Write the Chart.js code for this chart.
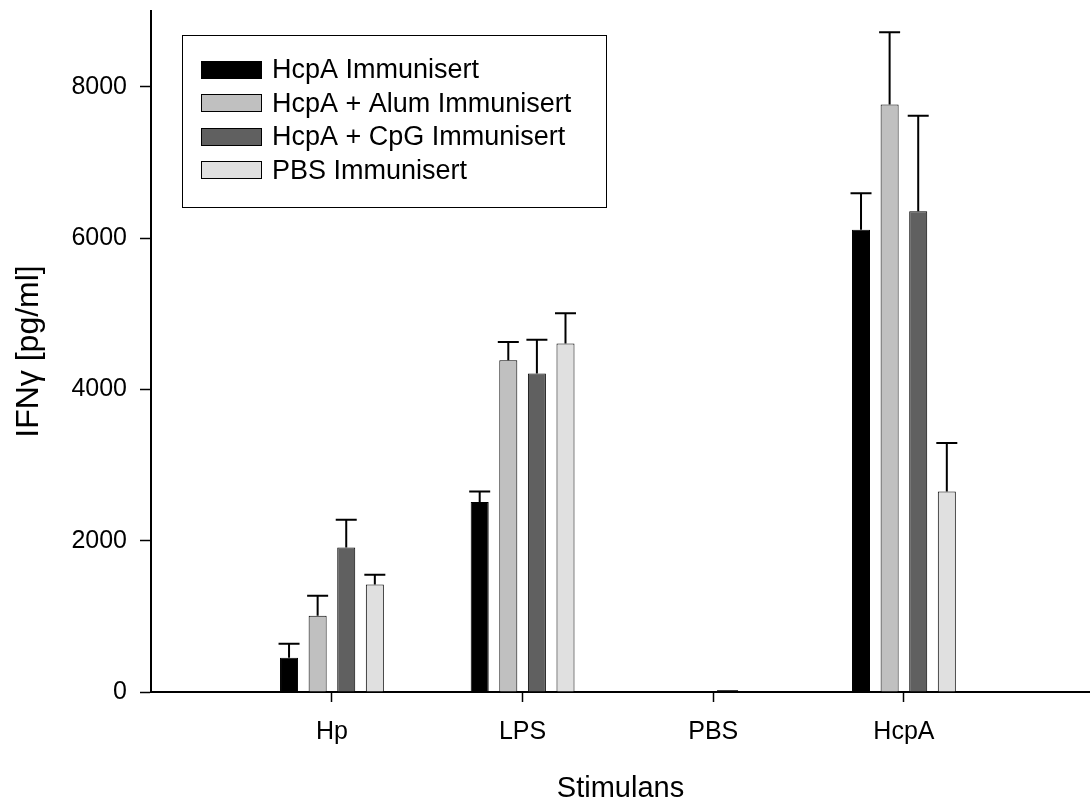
<!DOCTYPE html>
<html>
<head>
<meta charset="utf-8">
<title>IFNγ response per stimulus</title>
<script src="https://cdn.jsdelivr.net/npm/chart.js@4.4.1/dist/chart.umd.min.js"></script>
<style>
  html, body { margin: 0; padding: 0; background: #ffffff; }
  #wrap { position: relative; width: 1090px; height: 801px; }
</style>
</head>
<body>
<div id="wrap"><canvas id="c"></canvas></div>
<script>
// Stimulus groups along the x axis
const categories = ['Hp', 'LPS', 'PBS', 'HcpA'];
const categoryPositions = [1, 2, 3, 4];

// Mean IFNγ (pg/ml) per immunisation group, with upper error (SEM)
const hcpaValues = [453, 2510, 0, 6108];
const hcpaErrors = [185, 141, 0, 485];

const alumValues = [1008, 4386, 0, 7763];
const alumErrors = [264, 238, 0, 957];

const cpgValues = [1911, 4210, 0, 6355];
const cpgErrors = [365, 445, 10, 1259];

const pbsValues = [1422, 4606, 0, 2650];
const pbsErrors = [128, 401, 0, 640];

const seriesNames = ['HcpA Immunisert', 'HcpA + Alum Immunisert', 'HcpA + CpG Immunisert', 'PBS Immunisert'];
const seriesColors = ['#000000', '#c0c0c0', '#606060', '#e0e0e0'];

// Y axis tick values
const yTicks = [0, 2000, 4000, 6000, 8000];

const FONT = 'Liberation Sans, Arial, Helvetica, sans-serif';

function toPoints(values) {
  return values.map((v, i) => ({ x: categoryPositions[i], y: v }));
}

const seriesValues = [hcpaValues, alumValues, cpgValues, pbsValues];
const seriesErrors = [hcpaErrors, alumErrors, cpgErrors, pbsErrors];

const datasets = seriesNames.map((name, i) => ({
  label: name,
  data: toPoints(seriesValues[i]),
  errors: seriesErrors[i],
  backgroundColor: seriesColors[i],
  borderColor: '#000000',
  borderWidth: 1,
  categoryPercentage: 0.6,
  barPercentage: 0.63
}));

// Upward error bars with horizontal caps
const errorBars = {
  id: 'errorBars',
  afterDatasetsDraw(chart) {
    const ctx = chart.ctx;
    const yScale = chart.scales.y;
    ctx.save();
    ctx.strokeStyle = '#000000';
    ctx.lineWidth = 2;
    chart.data.datasets.forEach((ds, di) => {
      const meta = chart.getDatasetMeta(di);
      meta.data.forEach((bar, i) => {
        const err = ds.errors[i];
        if (!err) return;
        const val = ds.data[i].y;
        const yTop = yScale.getPixelForValue(val + err);
        const yBase = yScale.getPixelForValue(val);
        const x = bar.x;
        ctx.beginPath();
        ctx.moveTo(x, yBase);
        ctx.lineTo(x, yTop);
        ctx.moveTo(x - 10.5, yTop);
        ctx.lineTo(x + 10.5, yTop);
        ctx.stroke();
      });
    });
    ctx.restore();
  }
};

// Boxed legend in the upper left of the plot
const boxLegend = {
  id: 'boxLegend',
  afterDraw(chart) {
    const ctx = chart.ctx;
    ctx.save();
    ctx.strokeStyle = '#000000';
    ctx.lineWidth = 1;
    ctx.fillStyle = '#ffffff';
    ctx.fillRect(182.5, 35.5, 424, 172);
    ctx.strokeRect(182.5, 35.5, 424, 172);
    ctx.font = '27px ' + FONT;
    ctx.textBaseline = 'middle';
    chart.data.datasets.forEach((ds, i) => {
      const cy = 69.5 + i * 33.6;
      ctx.fillStyle = ds.backgroundColor;
      ctx.fillRect(201, Math.round(cy - 9), 61, 18);
      ctx.strokeStyle = '#000000';
      ctx.strokeRect(201.5, Math.round(cy - 9) + 0.5, 60, 17);
      ctx.fillStyle = '#000000';
      ctx.fillText(ds.label, 272, cy + 1);
    });
    ctx.restore();
  }
};

new Chart(document.getElementById('c'), {
  type: 'bar',
  data: { datasets },
  plugins: [errorBars, boxLegend],
  options: {
    responsive: true,
    maintainAspectRatio: false,
    animation: false,
    layout: { padding: { top: 11, right: 0, bottom: 0, left: 0 } },
    plugins: {
      legend: { display: false },
      tooltip: { enabled: false }
    },
    scales: {
      x: {
        type: 'linear',
        min: 0.051,
        max: 4.976,
        offset: false,
        afterBuildTicks(scale) {
          scale.ticks = categoryPositions.map(v => ({ value: v }));
        },
        afterFit(scale) {
          scale.height = 109;
          scale.paddingLeft = 0;
          scale.paddingRight = 0;
        },
        ticks: {
          autoSkip: false,
          maxRotation: 0,
          padding: 15,
          color: '#000000',
          font: { family: FONT, size: 25 },
          callback(value) {
            const idx = categoryPositions.indexOf(value);
            return idx >= 0 ? categories[idx] : '';
          }
        },
        grid: {
          display: true,
          offset: false,
          drawOnChartArea: false,
          drawTicks: true,
          tickLength: 10,
          tickWidth: 1.5,
          tickColor: '#000000'
        },
        border: { display: true, color: '#000000', width: 2 },
        title: {
          display: true,
          text: 'Stimulans',
          color: '#000000',
          font: { family: FONT, size: 29 },
          padding: { top: 0, bottom: -5 }
        }
      },
      y: {
        min: 0,
        max: 9000,
        afterBuildTicks(scale) {
          scale.ticks = yTicks.map(v => ({ value: v }));
        },
        afterFit(scale) {
          scale.width = 151;
          scale.paddingTop = 0;
          scale.paddingBottom = 0;
        },
        ticks: {
          padding: 13,
          color: '#000000',
          font: { family: FONT, size: 25 },
          callback(value) { return String(value); }
        },
        grid: {
          display: true,
          drawOnChartArea: false,
          drawTicks: true,
          tickLength: 11,
          tickWidth: 1.5,
          tickColor: '#000000'
        },
        border: { display: true, color: '#000000', width: 2 },
        title: {
          display: true,
          text: 'IFNγ [pg/ml]',
          color: '#000000',
          font: { family: FONT, size: 32 },
          padding: { top: 10, bottom: 0 }
        }
      }
    }
  }
});
</script>
</body>
</html>
